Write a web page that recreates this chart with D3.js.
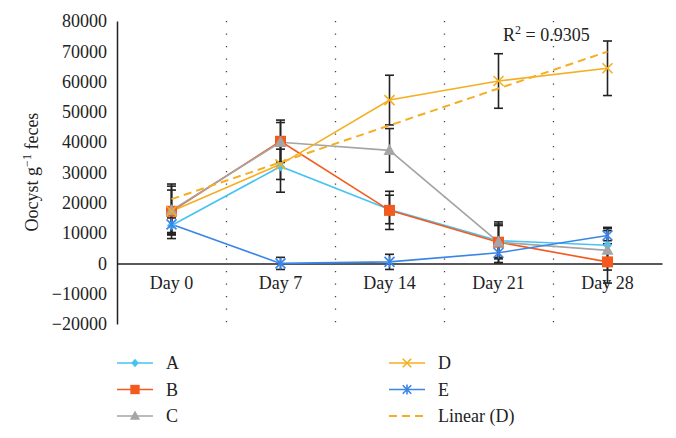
<!DOCTYPE html>
<html><head><meta charset="utf-8">
<script src="https://cdn.jsdelivr.net/npm/d3@7"></script>
<style>
html,body{margin:0;padding:0;background:#fff;}
svg text{font-family:'Liberation Serif','Times New Roman',Times,'DejaVu Serif',serif;fill:#222;}
</style></head>
<body><svg id="chart" width="676" height="438"></svg>
<script>
const days = ["Day 0","Day 7","Day 14","Day 21","Day 28"];
const yTicks = [-20000,-10000,0,10000,20000,30000,40000,50000,60000,70000,80000];
const seriesNames = ["A","B","C","D","E"];
const valuesA = [12500, 32000, 17800, 7500, 6000];
const valuesB = [17200, 40300, 17500, 7000, 500];
const valuesC = [17500, 40000, 37300, 7000, 4300];
const valuesD = [17200, 32700, 53900, 60200, 64400];
const valuesE = [12900, 0, 500, 3500, 9200];
const errorsA = [2500, 8500, 4700, 5500, 5500];
const errorsB = [9000, 7000, 6300, 6700, 7000];
const errorsC = [8000, 6500, 7200, 5500, 6500];
const errorsD = [7000, 5000, 8200, 9000, 9000];
const errorsE = [3500, 2000, 2500, 3300, 2700];
const trendD = [21200, 69900]; // Linear (D) at Day 0 and Day 28
const yTitle = ["Oocyst g", "−1", " feces"];

const colors = {A:"#47c3f2", B:"#f45a1d", C:"#a5a5a5", D:"#f5ae22", E:"#3a85e8"};
const valuesBy = {A:valuesA,B:valuesB,C:valuesC,D:valuesD,E:valuesE};
const errorsBy = {A:errorsA,B:errorsB,C:errorsC,D:errorsD,E:errorsE};
const FONT = "'Liberation Serif','Times New Roman',Times,'DejaVu Serif',serif";

const svg = d3.select("#chart");
const x = d3.scaleBand().domain(days).range([117, 662]).padding(0);
const cx = d => x(d) + x.bandwidth()/2;
const y = d3.scaleLinear().domain([-20000, 80000]).range([324, 21]);

// dotted vertical separators
svg.append("g").selectAll("line").data(days.slice(1)).join("line")
  .attr("x1", d => x(d)+0.5).attr("x2", d => x(d)+0.5)
  .attr("y1", y(80000)).attr("y2", y(-20000))
  .attr("stroke", "#444").attr("stroke-width", 1.3)
  .attr("stroke-dasharray", "1.3,11.2");

// y axis
const yAxis = d3.axisLeft(y).tickValues(yTicks).tickSize(0).tickPadding(10)
  .tickFormat(d => d < 0 ? "\u2212" + Math.abs(d) : String(d));
const gy = svg.append("g").attr("transform", "translate(117,0)").call(yAxis);
gy.attr("font-family", FONT);
gy.select(".domain").attr("stroke", "#222").attr("stroke-width", 1.5);
gy.selectAll("text").attr("font-size", 18).attr("fill", "#222");

// x axis at zero
const xAxis = d3.axisBottom(x).tickSize(0).tickPadding(13);
const gx = svg.append("g").attr("transform", `translate(0,${y(0)})`).call(xAxis);
gx.attr("font-family", FONT);
gx.select(".domain").attr("stroke", "#222").attr("stroke-width", 1.5);
gx.selectAll("text").attr("font-size", 18).attr("fill", "#222");

// lines
const line = d3.line().x((d,i) => cx(days[i])).y(d => y(d));
seriesNames.forEach(s => {
  svg.append("path").datum(valuesBy[s]).attr("d", line)
    .attr("fill","none").attr("stroke", colors[s]).attr("stroke-width", 1.6);
});

// error bars
const eg = svg.append("g").attr("stroke", "#222").attr("stroke-width", 1.6);
seriesNames.forEach(s => {
  valuesBy[s].forEach((v,i) => {
    const e = errorsBy[s][i], xc = cx(days[i]);
    eg.append("line").attr("x1", xc).attr("x2", xc).attr("y1", y(v+e)).attr("y2", y(v-e));
    [v+e, v-e].forEach(t => eg.append("line").attr("x1", xc-4.5).attr("x2", xc+4.5).attr("y1", y(t)).attr("y2", y(t)));
  });
});

// markers
function marker(g, s, px, py, scale) {
  const k = scale || 1, c = colors[s];
  if (s === "A") {
    g.append("path").attr("d", `M${px},${py-5*k}L${px+4.5*k},${py}L${px},${py+5*k}L${px-4.5*k},${py}Z`).attr("fill", c);
  } else if (s === "B") {
    g.append("rect").attr("x", px-5.5*k).attr("y", py-5.5*k).attr("width", 11*k).attr("height", 11*k).attr("fill", c);
  } else if (s === "C") {
    g.append("path").attr("d", `M${px},${py-6.5*k}L${px+6*k},${py+4.5*k}L${px-6*k},${py+4.5*k}Z`).attr("fill", c);
  } else if (s === "D") {
    const r = 5*k;
    g.append("path").attr("d", `M${px-r},${py-r}L${px+r},${py+r}M${px-r},${py+r}L${px+r},${py-r}`)
      .attr("stroke", c).attr("stroke-width", 1.6).attr("fill","none");
  } else if (s === "E") {
    const r = 5*k;
    g.append("path").attr("d", `M${px-r},${py-r}L${px+r},${py+r}M${px-r},${py+r}L${px+r},${py-r}M${px},${py-r*1.15}L${px},${py+r*1.15}`)
      .attr("stroke", c).attr("stroke-width", 1.6).attr("fill","none");
  }
}
const mg = svg.append("g");
seriesNames.forEach(s => valuesBy[s].forEach((v,i) => marker(mg, s, cx(days[i]), y(v))));

// linear trend
svg.append("line")
  .attr("x1", cx(days[0])).attr("y1", y(trendD[0]))
  .attr("x2", cx(days[days.length-1])).attr("y2", y(trendD[1]))
  .attr("stroke", colors.D).attr("stroke-width", 2).attr("stroke-dasharray", "8,5");

// R^2 label
const rt = svg.append("text").attr("x", 503).attr("y", 41).attr("font-size", 18).attr("font-family", FONT);
rt.append("tspan").text("R");
rt.append("tspan").text("2").attr("font-size", 12).attr("dy", -7);
rt.append("tspan").text(" = 0.9305").attr("dy", 7);

// y title
const yt = svg.append("text").attr("transform", "translate(38,172) rotate(-90)")
  .attr("text-anchor", "middle").attr("font-size", 18).attr("font-family", FONT);
yt.append("tspan").text(yTitle[0]);
yt.append("tspan").text(yTitle[1]).attr("font-size", 12).attr("dy", -7);
yt.append("tspan").text(yTitle[2]).attr("dy", 7);

// legend
const legendItems = [
  {name:"A", col:0, row:0}, {name:"B", col:0, row:1}, {name:"C", col:0, row:2},
  {name:"D", col:1, row:0}, {name:"E", col:1, row:1}, {name:"Linear (D)", col:1, row:2}
];
const lg = svg.append("g");
legendItems.forEach(it => {
  const x0 = it.col === 0 ? 117 : 389, yy = 363 + it.row*26.5;
  const c = it.name === "Linear (D)" ? colors.D : colors[it.name];
  const ln = lg.append("line").attr("x1", x0).attr("x2", x0+36).attr("y1", yy).attr("y2", yy)
    .attr("stroke", c).attr("stroke-width", 1.6);
  if (it.name === "Linear (D)") ln.attr("stroke-dasharray", "8,5").attr("stroke-width", 2);
  else marker(lg, it.name, x0+18, yy, 0.85);
  lg.append("text").attr("x", x0+49).attr("y", yy+6).attr("font-size", 18).attr("font-family", FONT).text(it.name);
});
</script></body></html>
